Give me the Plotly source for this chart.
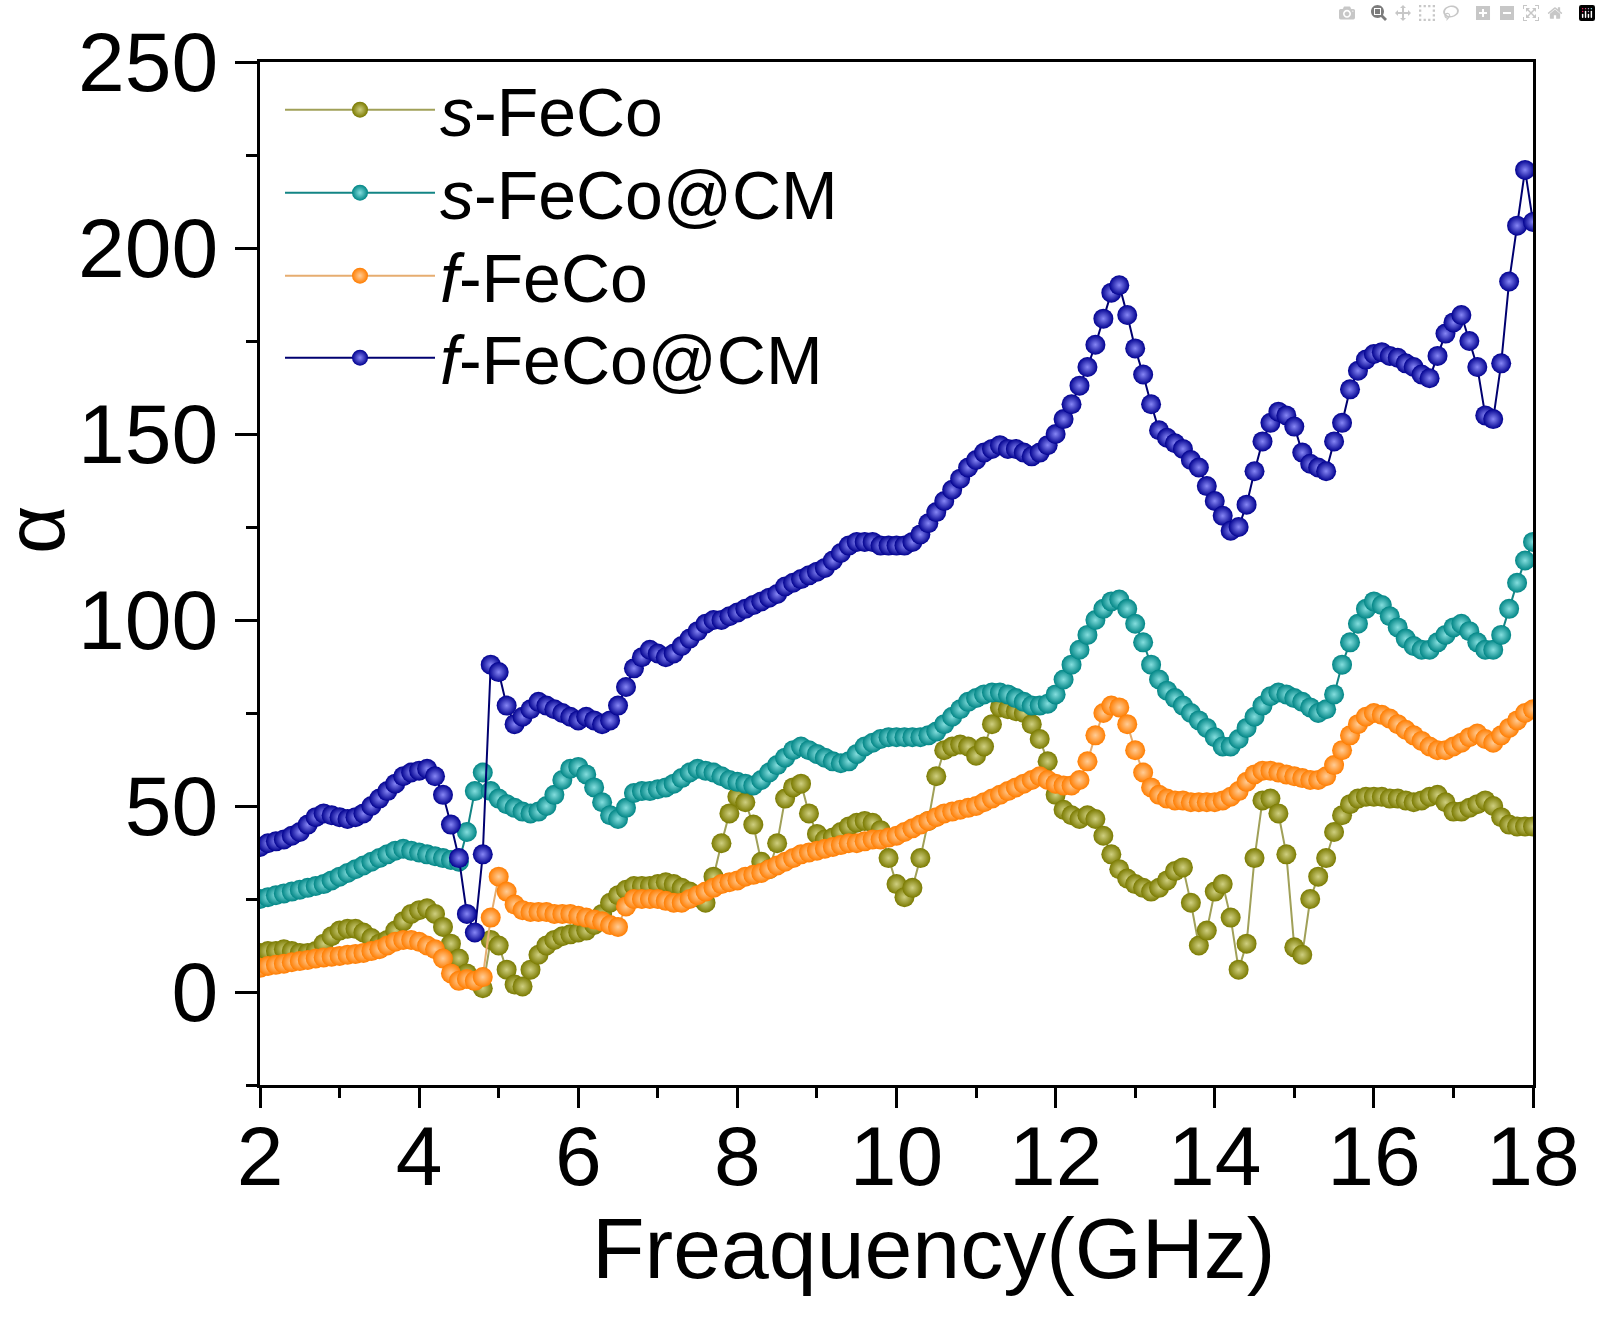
import plotly.graph_objects as go

# Frequency grid (GHz), 0.1 GHz step from 2 to 18
freq = [round(2 + 0.1 * i, 1) for i in range(161)]

s_feco = [
    10.5, 11, 11, 11.5, 11, 10.5, 10.5, 11, 13, 15,
    16.5, 17, 17, 16, 14.5, 13, 14, 16.5, 19, 21,
    22, 22.5, 21, 17.5, 13, 9, 5, 3, 1, 14,
    12.5, 6, 2, 1.5, 6, 10, 12.5, 14, 15, 15.5,
    16, 16.5, 18, 21, 24, 26, 27.5, 28.5, 28.5, 28.5,
    29, 29.5, 29, 28, 27, 25.5, 24, 31, 40, 48,
    52.5, 51, 45, 35, 33, 40, 52, 55, 56, 48,
    42.5, 41, 41.5, 43, 44.5, 45.5, 46, 45.5, 43.5, 36,
    29, 25.5, 28, 36, 46, 58, 65, 66, 66.5, 66,
    63.5, 66, 72, 76.5, 76, 75.5, 75, 72, 68, 62,
    53, 49, 47.5, 46.5, 47.5, 46.5, 42, 37, 33, 30.5,
    29, 28, 27, 28, 30, 32.5, 33.5, 24, 12.5, 16.5,
    27, 29, 20, 6, 13, 36, 51.5, 52, 48, 37,
    12, 10, 25, 31, 36, 43, 47.5, 50.5, 52, 52.5,
    52.5, 52.5, 52, 52, 51.5, 51, 51.5, 52.5, 53, 51,
    48.5, 48.5, 49.5, 50.5, 51.5, 50, 47, 45, 44.5, 44.5,
    44.5,
]

s_feco_cm = [
    25, 25.5, 26, 26.5, 27, 27.5, 28, 28.5, 29, 30,
    31, 32, 33, 34, 35, 36, 37, 38, 38.5, 38,
    37.5, 37, 36.5, 36, 35.5, 35, 43, 54, 59, 54,
    52, 50.5, 49.5, 48.5, 48, 48.5, 50, 53, 57, 60,
    60.5, 58.5, 55, 51, 47.5, 46.5, 49.5, 53.5, 54, 54,
    54.5, 55, 56, 57.5, 59, 60, 59.5, 59, 58, 57,
    56.5, 56, 55.5, 57, 59, 61, 63, 65, 66, 65,
    64, 63, 62, 61.5, 62, 64, 66, 67, 68, 68.5,
    68.5, 68.5, 68.5, 68.5, 69, 70, 72, 74, 76, 78,
    79, 80, 80.5, 80.5, 80, 79, 78, 77, 77, 77.5,
    80, 84, 88, 92, 96, 100, 103, 105, 105.5, 103,
    99, 94, 88, 84, 81, 79, 77, 75, 73, 71,
    68.5, 66, 66, 68, 71, 74, 77, 79.5, 80.5, 80,
    79, 78, 76.5, 75, 76, 80, 88, 94, 99, 103,
    105, 104, 101, 98, 95, 93, 92, 92, 94, 96,
    98, 99, 97, 94, 92, 92, 96, 103, 110, 116,
    121,
]

f_feco = [
    6.5, 7, 7.3, 7.6, 8, 8.3, 8.6, 9, 9.3, 9.5,
    9.7, 10, 10.2, 10.5, 11, 11.5, 12.5, 13.5, 14, 14,
    13.5, 12.5, 11.5, 9, 5, 3, 3.5, 3, 4, 20,
    31, 27, 23.5, 22, 21.5, 21.5, 21.5, 21, 21, 21,
    20.5, 20, 19.5, 19, 18, 17.5, 23, 25, 25, 25,
    25, 24.5, 24, 24, 25, 26, 27, 28, 29, 29.5,
    30, 31, 31.5, 32, 33, 34, 35, 36, 37, 37.5,
    38, 38.5, 39, 39.5, 40, 40, 40.5, 41, 41, 41.5,
    42, 43, 44, 45, 46, 47, 48, 48.5, 49, 49.5,
    50, 51, 52, 53, 54, 55, 56, 57, 58, 57,
    56, 55.5, 55.5, 57, 62, 69, 75, 77, 76.5, 72,
    65, 59, 55, 53, 52, 51.5, 51.5, 51, 51, 51,
    51, 51.5, 52.5, 54, 56.5, 58.5, 59.5, 59.5, 59, 58.5,
    58, 57.5, 57, 57, 58, 61, 65, 69, 72, 74,
    75, 74.5, 73.5, 72, 70.5, 69, 67.5, 66, 65, 65,
    66, 67, 68.5, 69.5, 68, 67, 69, 71, 73, 75,
    76,
]

f_feco_cm = [
    39, 40, 40.5, 41, 42, 43, 45, 47, 48, 47.5,
    47, 46.5, 47, 48, 50, 52, 54, 56, 58, 59,
    59.5, 60, 58, 53, 45, 36, 21, 16, 37, 88,
    86, 77, 72, 74, 76, 78, 77, 76, 75, 74,
    73, 74, 73, 72, 73, 77, 82, 87, 90, 92,
    91, 90, 91, 93, 95, 97, 99, 100, 100, 101,
    102, 103, 104, 105, 106, 107, 109, 110, 111, 112,
    113, 114, 116, 118, 120, 121, 121, 121, 120, 120,
    120, 120, 121, 123, 126, 129, 132, 135, 138, 141,
    143, 145, 146, 147, 146, 146, 145, 144, 145, 147,
    150, 154, 158, 163, 168, 174, 181, 188, 190, 182,
    173, 166, 158, 151, 149, 147.5, 146, 143, 141, 136,
    132, 128, 124, 125, 131, 140, 148, 153, 156, 155,
    152, 145, 142, 141, 140, 148, 153, 162, 167, 170,
    171.5, 172, 171, 170.5, 169, 168, 166, 165, 171, 177,
    180, 182, 175, 168, 155, 154, 169, 191, 206, 221,
    207,
]

series_names = ["<i>s</i>-FeCo", "<i>s</i>-FeCo@CM", "<i>f</i>-FeCo", "<i>f</i>-FeCo@CM"]
series_values = [s_feco, s_feco_cm, f_feco, f_feco_cm]
marker_colors = ["#7a7a00", "#008585", "#ff7d00", "#00008f"]
highlight_colors = ["#cfcf80", "#84dede", "#ffcc96", "#8686f5"]
line_colors = ["#a0a058", "#138585", "#e6ad70", "#000070"]

x_ticks = [2, 4, 6, 8, 10, 12, 14, 16, 18]
y_ticks = [0, 50, 100, 150, 200, 250]

FONT = "Arial, Liberation Sans, sans-serif"

# plot-area pixel frame, used only to convert layout positions to paper units
L, R, T, B = 260, 1533, 62, 1085
def px(x):
    return (x - L) / (R - L)
def py(y):
    return (B - y) / (B - T)

legend_ids = ["legend", "legend2", "legend3", "legend4"]
legend_rows = [110, 193, 276, 358]

fig = go.Figure()
for name, vals, mc, hc, lc, lid in zip(series_names, series_values, marker_colors,
                                       highlight_colors, line_colors, legend_ids):
    fig.add_trace(go.Scatter(
        x=freq, y=vals, name=name, mode="lines+markers",
        legend=lid,
        line=dict(color=lc, width=2),
        marker=dict(size=20, color=mc, line=dict(width=0),
                    gradient=dict(type="radial", color=hc)),
    ))

axis_common = dict(
    showline=True, linewidth=3, linecolor="black", mirror=True,
    ticks="outside", tickwidth=3, tickcolor="black",
    showgrid=False, zeroline=False,
    tickfont=dict(family=FONT, size=84, color="black"),
)

fig.update_xaxes(range=[2, 18], tickvals=x_ticks, ticklen=20,
                 ticklabelstandoff=-24,
                 minor=dict(ticks="outside", dtick=1, ticklen=10, tickwidth=3,
                            tickcolor="black"),
                 **axis_common)
fig.update_yaxes(range=[-25, 250], tickvals=y_ticks, ticklen=22,
                 minor=dict(ticks="outside", dtick=25, ticklen=11, tickwidth=3,
                            tickcolor="black"),
                 **axis_common)

legend_style = dict(xanchor="left", yanchor="middle",
                    bgcolor="rgba(0,0,0,0)", borderwidth=0,
                    font=dict(family=FONT, size=68, color="black"),
                    itemwidth=150, itemsizing="trace")
legends = {}
for lid, row in zip(legend_ids, legend_rows):
    legends[lid] = dict(x=px(280), y=py(row), **legend_style)

fig.update_layout(
    width=1601, height=1320,
    margin=dict(l=L, r=1601 - R, t=T, b=1320 - B),
    paper_bgcolor="white", plot_bgcolor="white",
    font=dict(family=FONT, color="black"),
    showlegend=True,
    annotations=[
        dict(text="Freaquency(GHz)", xref="paper", yref="paper",
             x=px(933), y=py(1248),
             xanchor="center", yanchor="middle", showarrow=False,
             font=dict(family=FONT, size=86, color="black")),
        dict(text="α", xref="paper", yref="paper",
             x=px(35), y=py(530),
             xanchor="center", yanchor="middle", showarrow=False, textangle=-90,
             font=dict(family=FONT, size=84, color="black")),
    ],
    **legends,
)

fig.write_html("out.html", post_script="document.body.style.margin='0';")
